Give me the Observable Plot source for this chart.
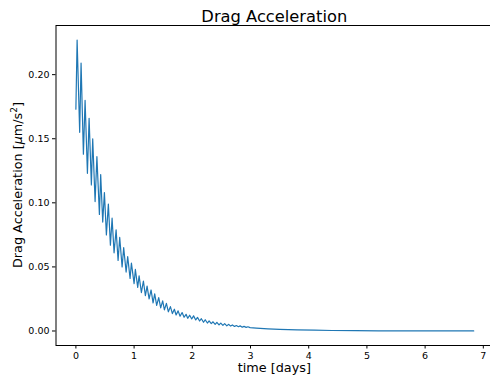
<!DOCTYPE html>
<html>
<head>
<meta charset="utf-8">
<script src="https://cdn.jsdelivr.net/npm/d3@7"></script>
<script src="https://cdn.jsdelivr.net/npm/@observablehq/plot@0.6"></script>
<style>
  html, body { margin: 0; padding: 0; background: #fff; overflow: hidden; }
  svg { display: block; }
</style>
</head>
<body>
<div id="chart"></div>
<script>
// Peaks of the oscillation (time in days, acceleration in µm/s²)
const peakTime = [0.021, 0.089, 0.158, 0.227, 0.289, 0.361, 0.426, 0.490, 0.558, 0.622,
  0.691, 0.753, 0.821, 0.890, 0.954, 1.022, 1.086, 1.160, 1.223, 1.292,
  1.354, 1.423, 1.491, 1.555, 1.624, 1.692, 1.756, 1.825, 1.893, 1.955,
  2.022, 2.089, 2.156, 2.222, 2.289, 2.356, 2.422, 2.489, 2.556, 2.622,
  2.689, 2.756, 2.822, 2.889, 2.956];
const peakValue = [0.227, 0.209, 0.180, 0.166, 0.150, 0.136, 0.122, 0.108, 0.099, 0.088,
  0.079, 0.073, 0.065, 0.058, 0.053, 0.048, 0.043, 0.039, 0.035, 0.032,
  0.029, 0.026, 0.0235, 0.0215, 0.019, 0.017, 0.0157, 0.0144, 0.013, 0.0123,
  0.0118, 0.0106, 0.0096, 0.0088, 0.0079, 0.0072, 0.0068, 0.0062, 0.0057, 0.0052,
  0.0047, 0.0043, 0.0040, 0.0036, 0.0033];
// Troughs of the oscillation (first one is the starting value)
const troughTime = [0.000, 0.065, 0.129, 0.198, 0.266, 0.330, 0.404, 0.461, 0.524, 0.593,
  0.656, 0.725, 0.794, 0.863, 0.931, 1.000, 1.062, 1.125, 1.194, 1.258,
  1.326, 1.388, 1.457, 1.521, 1.589, 1.658, 1.722, 1.790, 1.859, 1.921,
  1.990, 2.059, 2.126, 2.193, 2.259, 2.326, 2.393, 2.459, 2.526, 2.593,
  2.659, 2.726, 2.793, 2.859, 2.926, 2.993];
const troughValue = [0.173, 0.155, 0.138, 0.123, 0.114, 0.101, 0.091, 0.085, 0.075, 0.067,
  0.061, 0.055, 0.050, 0.046, 0.041, 0.037, 0.034, 0.030, 0.0275, 0.025,
  0.022, 0.020, 0.018, 0.0165, 0.015, 0.0136, 0.0125, 0.0115, 0.0107, 0.0099,
  0.0094, 0.0086, 0.0078, 0.0068, 0.0062, 0.0058, 0.0052, 0.0047, 0.0044, 0.0040,
  0.0038, 0.0035, 0.0033, 0.0030, 0.0028, 0.0026];
// Smooth tail after the oscillation has died out
const tailTime = [3.1, 3.3, 3.5, 3.8, 4.1, 4.4, 4.8, 5.2, 5.6, 6.0, 6.4, 6.835];
const tailValue = [0.0022, 0.0016, 0.0012, 0.0009, 0.0006, 0.0004, 0.00025, 0.00015, 0.0001, 0.00007, 0.00005, 0.00003];

const xTicks = [0, 1, 2, 3, 4, 5, 6, 7];
const yTicks = [0.00, 0.05, 0.10, 0.15, 0.20];

const data = [];
peakTime.forEach((t, i) => data.push({t, v: peakValue[i]}));
troughTime.forEach((t, i) => data.push({t, v: troughValue[i]}));
tailTime.forEach((t, i) => data.push({t, v: tailValue[i]}));
data.sort((a, b) => a.t - b.t);

const tMax = d3.max(data, d => d.t), vMax = d3.max(data, d => d.v), vMin = d3.min(data, d => d.v);
const padX = 0.05 * tMax, padY = 0.05 * (vMax - vMin);

const font = "DejaVu Sans, sans-serif";
const svg = Plot.plot({
  width: 490,
  height: 381,
  marginLeft: 55.5,
  marginRight: -3.1,
  marginTop: 25,
  marginBottom: 36,
  style: {fontFamily: font, fontSize: "9.5px", color: "black", background: "white", overflow: "hidden"},
  x: {domain: [-padX, tMax + padX]},
  y: {domain: [vMin - padY, vMax + padY]},
  marks: [
    Plot.line(data, {x: "t", y: "v", stroke: "#1f77b4", strokeWidth: 1.2}),
    Plot.frame({stroke: "black", strokeWidth: 1}),
    Plot.axisX({ticks: xTicks, tickFormat: d => String(d), tickSize: 3.5, tickPadding: 3, label: null, fontSize: 9.5}),
    Plot.axisY({ticks: yTicks, tickFormat: d => d.toFixed(2), tickSize: 3.5, tickPadding: 3, label: null, fontSize: 9.5})
  ]
});
document.getElementById("chart").appendChild(svg);

const s = d3.select(svg);
const cx = (55.5 + 493.1) / 2;
s.append("text").attr("x", cx).attr("y", 22).attr("text-anchor", "middle")
  .attr("font-family", font).attr("font-size", 16.3).attr("fill", "black").text("Drag Acceleration");
s.append("text").attr("x", cx).attr("y", 372).attr("text-anchor", "middle")
  .attr("font-family", font).attr("font-size", 12.8).attr("fill", "black").text("time [days]");
const yl = s.append("text").attr("transform", "translate(22,185) rotate(-90)").attr("text-anchor", "middle")
  .attr("font-family", font).attr("font-size", 12.8).attr("fill", "black");
yl.append("tspan").text("Drag Acceleration [");
yl.append("tspan").attr("font-style", "italic").text("\u03bc");
yl.append("tspan").text("m/s");
yl.append("tspan").attr("dy", -5).attr("font-size", 9).text("2");
yl.append("tspan").attr("dy", 5).text("]");
</script>
</body>
</html>
